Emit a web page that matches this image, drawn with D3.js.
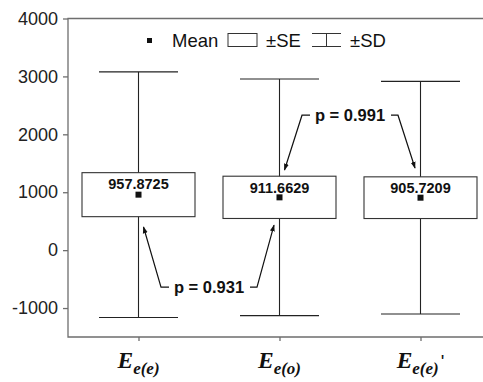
<!DOCTYPE html>
<html>
<head>
<meta charset="utf-8">
<script src="https://cdn.jsdelivr.net/npm/d3@7.9.0/dist/d3.min.js"></script>
<style>
  body { margin: 0; background: #fff; }
  svg { display: block; font-family: "Liberation Sans", Arial, sans-serif; }
</style>
</head>
<body>
<svg id="chart" width="483" height="382"></svg>
<script>
// data
const categories = ['e(e)', 'e(o)', "e(e)'"];
const means = [957.8725, 911.6629, 905.7209];
const seValues = [380, 365, 360];
const sdValues = [2120, 2043, 2009];
const yTicks = [-1000, 0, 1000, 2000, 3000, 4000];

// p-value annotations: from, to, label, text level, arrow tip levels
const pPairs = [
  { a: 0, b: 1, label: 'p = 0.931', level: -640, tipA: 400, tipB: 433 },
  { a: 1, b: 2, label: 'p = 0.991', level: 2330, tipA: 1383, tipB: 1418 }
];

const svg = d3.select('#chart');
const plotLeft = 68, plotRight = 491, plotTop = 18.5, plotBottom = 337;
const axisColor = '#6e6e6e';

let x = d3.scalePoint().domain(d3.range(categories.length)).range([plotLeft, plotRight]).padding(0.5);
let y = d3.scaleLinear().domain([-1500, 4000]).range([plotBottom, plotTop]);

svg.append('defs').append('marker')
  .attr('id', 'arrow')
  .attr('viewBox', '0 0 10 10')
  .attr('refX', 9).attr('refY', 5)
  .attr('markerWidth', 7).attr('markerHeight', 7)
  .attr('markerUnits', 'userSpaceOnUse')
  .attr('orient', 'auto')
  .append('path').attr('d', 'M0,1.5 L10,5 L0,8.5 Z').attr('fill', '#111');

// frame (left, top, bottom)
svg.append('path')
  .attr('d', `M${plotRight + 20},${plotTop} H${plotLeft} V${plotBottom} H${plotRight + 20}`)
  .attr('fill', 'none').attr('stroke', axisColor).attr('stroke-width', 1.3);

// y axis
let yAxis = svg.append('g')
  .attr('transform', `translate(${plotLeft},0)`)
  .call(d3.axisLeft(y).tickValues(yTicks).tickSize(5).tickPadding(5).tickFormat(d => String(d)));
yAxis.select('.domain').remove();
yAxis.selectAll('line').attr('stroke', axisColor).attr('stroke-width', 1.3);
yAxis.selectAll('text').attr('font-size', 18).attr('fill', '#222')
  .attr('font-family', '"Liberation Sans", Arial, sans-serif');

// x axis ticks
let xAxis = svg.append('g')
  .attr('transform', `translate(0,${plotBottom})`)
  .call(d3.axisBottom(x).tickSize(4).tickFormat(''));
xAxis.select('.domain').remove();
xAxis.selectAll('line').attr('stroke', axisColor).attr('stroke-width', 1.3);

// category labels: E with subscript
categories.forEach((c, i) => {
  let prime = c.endsWith("'");
  let sub = prime ? c.slice(0, -1) : c;
  let t = svg.append('text')
    .attr('x', x(i)).attr('y', 368)
    .attr('text-anchor', 'middle')
    .attr('font-family', '"Liberation Serif", "Times New Roman", serif')
    .attr('font-style', 'italic').attr('font-weight', 'bold')
    .attr('fill', '#111');
  t.append('tspan').attr('font-size', 23.5).text('E');
  t.append('tspan').attr('font-size', 17).attr('dy', 6).text(sub);
  if (prime) t.append('tspan').attr('font-size', 19).attr('font-style', 'normal').attr('font-weight', 'normal')
    .attr('font-family', '"Liberation Sans", Arial, sans-serif').attr('dy', -6).attr('dx', 2).text("'");
});

const boxW = 113, capW = 79;

categories.forEach((c, i) => {
  let cx = x(i);
  let m = means[i];
  let g = svg.append('g');
  // SD whisker
  g.append('line').attr('x1', cx).attr('x2', cx).attr('y1', y(m + sdValues[i])).attr('y2', y(m - sdValues[i]))
    .attr('stroke', '#222').attr('stroke-width', 1.1);
  [m + sdValues[i], m - sdValues[i]].forEach(v => {
    g.append('line').attr('x1', cx - capW / 2).attr('x2', cx + capW / 2).attr('y1', y(v)).attr('y2', y(v))
      .attr('stroke', '#222').attr('stroke-width', 1.1);
  });
  // SE box
  g.append('rect')
    .attr('x', cx - boxW / 2).attr('width', boxW)
    .attr('y', y(m + seValues[i])).attr('height', y(m - seValues[i]) - y(m + seValues[i]))
    .attr('fill', '#fff').attr('stroke', '#333').attr('stroke-width', 1.1);
  // mean
  g.append('rect').attr('x', cx - 3).attr('y', y(m) - 3).attr('width', 6).attr('height', 6).attr('fill', '#111');
  g.append('text')
    .attr('x', cx).attr('y', y(m + seValues[i]) + 16.5)
    .attr('text-anchor', 'middle').attr('font-size', 14.5).attr('font-weight', 'bold').attr('fill', '#111')
    .text(m.toFixed(4));
});

// p-value annotations
pPairs.forEach(p => {
  let mid = (x(p.a) + x(p.b)) / 2;
  let ty = y(p.level);
  svg.append('text')
    .attr('x', mid).attr('y', ty + 6)
    .attr('text-anchor', 'middle').attr('font-size', 16.5).attr('font-weight', 'bold').attr('fill', '#111')
    .text(p.label);
  let half = 48;
  let lx = mid - half, rx = mid + half;
  let ax = x(p.a) + 5, bx = x(p.b) - 5.5;
  svg.append('path')
    .attr('d', `M${lx + 8},${ty} H${lx} L${ax},${y(p.tipA)}`)
    .attr('fill', 'none').attr('stroke', '#111').attr('stroke-width', 1.2).attr('marker-end', 'url(#arrow)');
  svg.append('path')
    .attr('d', `M${rx - 7},${ty} H${rx} L${bx},${y(p.tipB)}`)
    .attr('fill', 'none').attr('stroke', '#111').attr('stroke-width', 1.2).attr('marker-end', 'url(#arrow)');
});

// legend
let leg = svg.append('g').attr('font-size', 18.5).attr('fill', '#111');
leg.append('rect').attr('x', 147).attr('y', 38).attr('width', 5).attr('height', 5).attr('fill', '#111');
leg.append('text').attr('x', 172).attr('y', 46.5).text('Mean');
leg.append('rect').attr('x', 228).attr('y', 33.5).attr('width', 29).attr('height', 13)
  .attr('fill', 'none').attr('stroke', '#333').attr('stroke-width', 1);
leg.append('text').attr('x', 266).attr('y', 46.5).text('±SE');
leg.append('path').attr('d', 'M312,33.5 H341 M326.5,33.5 V46.5 M312,46.5 H341')
  .attr('fill', 'none').attr('stroke', '#333').attr('stroke-width', 1);
leg.append('text').attr('x', 350).attr('y', 46.5).text('±SD');
</script>
</body>
</html>
